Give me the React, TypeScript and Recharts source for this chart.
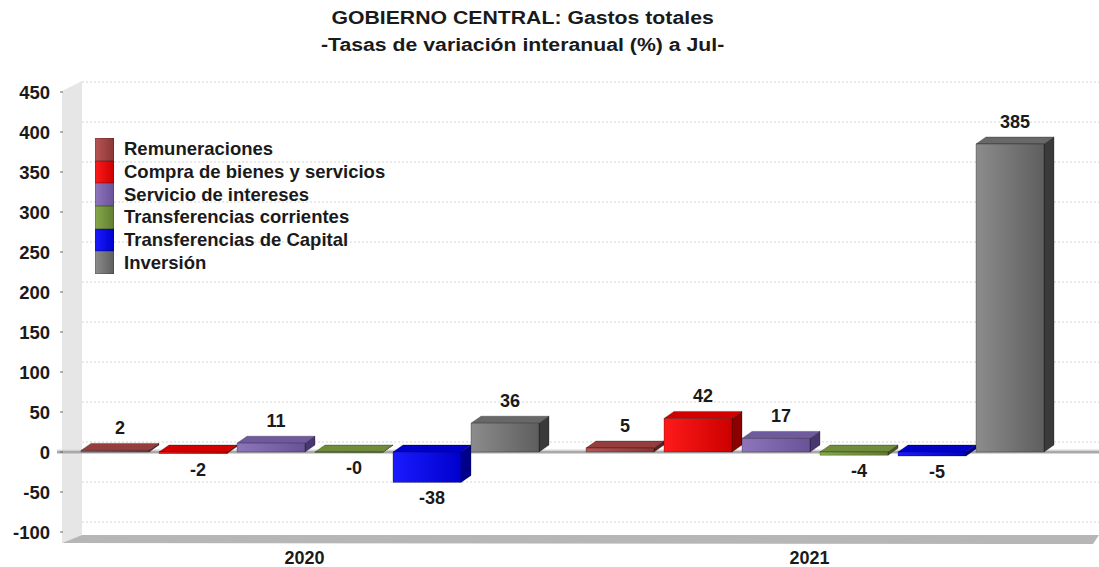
import React from 'react';
import { BarChart, Bar, XAxis, YAxis, CartesianGrid, ReferenceLine, LabelList } from 'recharts';

// Tasas de variación interanual (%) a julio
const categories = ['2020', '2021'];
const seriesNames = [
  'Remuneraciones',
  'Compra de bienes y servicios',
  'Servicio de intereses',
  'Transferencias corrientes',
  'Transferencias de Capital',
  'Inversión',
];
const remuneraciones = [2, 5];
const compraBienes = [-2, 42];
const servicioIntereses = [11, 17];
const transferenciasCorrientes = [-0.2, -4];
const transferenciasCapital = [-38, -5];
const inversion = [36, 385];
const yTicks = [-100, -50, 0, 50, 100, 150, 200, 250, 300, 350, 400, 450];

const seriesValues = [remuneraciones, compraBienes, servicioIntereses, transferenciasCorrientes, transferenciasCapital, inversion];
const seriesKeys = ['s0', 's1', 's2', 's3', 's4', 's5'];

const data = categories.map((year, i) => {
  const row: Record<string, any> = { year };
  seriesKeys.forEach((k, j) => { row[k] = seriesValues[j][i]; });
  return row;
});

const palette = [
  { light: '#b85555', dark: '#8a3535', top: '#963d3d', side: '#5c2020', swatch: '#b04848' },
  { light: '#ff1a1a', dark: '#cc0000', top: '#d40000', side: '#8c0000', swatch: '#ee0000' },
  { light: '#8e76bc', dark: '#6a5299', top: '#6f5a9e', side: '#48366e', swatch: '#7a5fa8' },
  { light: '#86a84a', dark: '#627d32', top: '#6f8c3a', side: '#445a22', swatch: '#78993f' },
  { light: '#1a1aff', dark: '#0000cc', top: '#0000c8', side: '#00008a', swatch: '#0000ee' },
  { light: '#8c8c8c', dark: '#5e5e5e', top: '#686868', side: '#3a3a3a', swatch: '#707070' },
];

const FONT = '"Liberation Sans", Arial, sans-serif';
const W = 1099;
const H = 567;
const DX = 10;
const DY = 7;

const fmt = (v: number) => {
  const r = Math.round(v);
  if (r === 0 && v < 0) return '-0';
  return String(r);
};

const Bar3D = (props: any) => {
  const { x, y, width, height, c } = props;
  const top = Math.min(y, y + height);
  const h = Math.abs(height);
  const fw = width - DX;
  const stroke = 'rgba(0,0,0,0.45)';
  return (
    <g>
      <polygon
        points={`${x + fw},${top} ${x + fw + DX},${top - DY} ${x + fw + DX},${top + h - DY} ${x + fw},${top + h}`}
        fill={c.side}
        stroke={stroke}
        strokeWidth={0.6}
      />
      <polygon
        points={`${x},${top} ${x + DX},${top - DY} ${x + fw + DX},${top - DY} ${x + fw},${top}`}
        fill={c.top}
        stroke={stroke}
        strokeWidth={0.6}
      />
      <rect x={x} y={top} width={fw} height={Math.max(h, 0.5)} fill={`url(#grad${c.i})`} stroke={stroke} strokeWidth={0.6} />
    </g>
  );
};

const renderLabel = (props: any) => {
  const vb = props.viewBox || props;
  const { x, y, width, height } = vb;
  const v = Number(props.value);
  const top = Math.min(y, y + height);
  const bottom = Math.max(y, y + height);
  const cx = x + width / 2;
  const cy = v < 0 ? bottom + 16 : top - 22;
  return (
    <text x={cx} y={cy} textAnchor="middle" dominantBaseline="central" fill="#1a1a1a" fontSize={18} fontWeight="bold" fontFamily={FONT}>
      {fmt(v)}
    </text>
  );
};

const XTick = (props: any) => {
  const { x, y, payload } = props;
  return (
    <text x={x - 11} y={y} dy="0.71em" textAnchor="middle" fill="#1a1a1a" fontSize={18} fontWeight="bold" fontFamily={FONT}>
      {payload.value}
    </text>
  );
};

const gridLine = (p: any) => (
  <line key={p.key} x1={p.x1 + 19} y1={p.y1 - 10} x2={p.x2 + 26} y2={p.y2 - 10} stroke="#d4d4d4" strokeWidth={1} strokeDasharray="2 2" />
);

const App = () => {
  const plotLeft = 63;
  const plotTop = 92;
  const plotBottom = 532;

  return (
    <div style={{ position: 'absolute', left: 0, top: 0, width: W, height: H, background: '#fff', fontFamily: FONT }}>
      {/* back wall and floor */}
      <svg width={W} height={H} style={{ position: 'absolute', left: 0, top: 0 }}>
        <polygon
          points={`${plotLeft - 1},${plotTop - 1} ${plotLeft + 19},${plotTop - 11} ${plotLeft + 19},${plotBottom + 3} ${plotLeft - 1},${plotBottom + 11}`}
          fill="#e6e6e6"
        />
        <polygon
          points={`${plotLeft - 1},${plotBottom + 11} ${plotLeft + 19},${plotBottom + 3} ${W},${plotBottom + 3} ${W - 6},${plotBottom + 12}`}
          fill="#b6b6b6"
        />
      </svg>

      <div style={{ position: 'absolute', left: 0, top: 0 }}>
        <BarChart
          width={W}
          height={H}
          data={data}
          margin={{ top: plotTop, right: 26, bottom: 5, left: 0 }}
          barCategoryGap={18}
          barGap={0}
        >
          <defs>
            {palette.map((c, i) => (
              <linearGradient key={i} id={`grad${i}`} x1="0" y1="0" x2="1" y2="0">
                <stop offset="0%" stopColor={c.light} />
                <stop offset="100%" stopColor={c.dark} />
              </linearGradient>
            ))}
          </defs>
          <CartesianGrid vertical={false} horizontal={gridLine} />
          <ReferenceLine
            y={0}
            zIndex={-50}
            shape={(p: any) => (
              <g>
                <line x1={p.x1 - 6} x2={p.x2 + 26} y1={p.y1} y2={p.y2} stroke="#a9a9a9" strokeWidth={3} />
                <line x1={p.x1 - 6} x2={p.x2 + 26} y1={p.y1 - 2} y2={p.y2 - 2} stroke="#d6d6d6" strokeWidth={1} />
              </g>
            )}
          />
          <XAxis dataKey="year" axisLine={false} tickLine={false} tickSize={0} tickMargin={19} height={30} tick={<XTick />} />
          <YAxis
            width={plotLeft}
            domain={[-100, 450]}
            ticks={yTicks}
            axisLine={false}
            tickSize={3}
            tickMargin={10}
            tickLine={{ stroke: '#666' }}
            tick={{ fill: '#1a1a1a', fontSize: 18.5, fontWeight: 'bold', fontFamily: FONT }}
            allowDataOverflow
          />
          {seriesKeys.map((k, i) => (
            <Bar
              key={k}
              dataKey={k}
              name={seriesNames[i]}
              fill={palette[i].swatch}
              isAnimationActive={false}
              shape={(p: any) => <Bar3D {...p} c={{ ...palette[i], i }} />}
            >
              <LabelList dataKey={k} content={renderLabel} />
            </Bar>
          ))}
        </BarChart>
      </div>

      {/* title */}
      <div
        style={{
          position: 'absolute',
          left: 0,
          top: 5,
          width: 1045,
          textAlign: 'center',
          fontSize: 18,
          fontWeight: 'bold',
          lineHeight: '27px',
          color: '#1a1a1a',
          transform: 'scaleX(1.18)',
          transformOrigin: '522px 0',
        }}
      >
        <div>GOBIERNO CENTRAL: Gastos totales</div>
        <div>-Tasas de variación interanual (%) a Jul-</div>
      </div>

      {/* legend */}
      <div style={{ position: 'absolute', left: 95, top: 138 }}>
        {seriesNames.map((name, i) => (
          <div key={name} style={{ display: 'flex', alignItems: 'center', height: 22.7 }}>
            <div
              style={{
                width: 19,
                height: 22.7,
                background: `linear-gradient(to right, ${palette[i].light}, ${palette[i].dark})`,
                boxShadow: 'inset 0 0 0 0.5px rgba(0,0,0,0.35)',
              }}
            />
            <span style={{ marginLeft: 10, fontSize: 18.5, fontWeight: 'bold', color: '#1a1a1a', whiteSpace: 'nowrap' }}>{name}</span>
          </div>
        ))}
      </div>
    </div>
  );
};

export default App;
